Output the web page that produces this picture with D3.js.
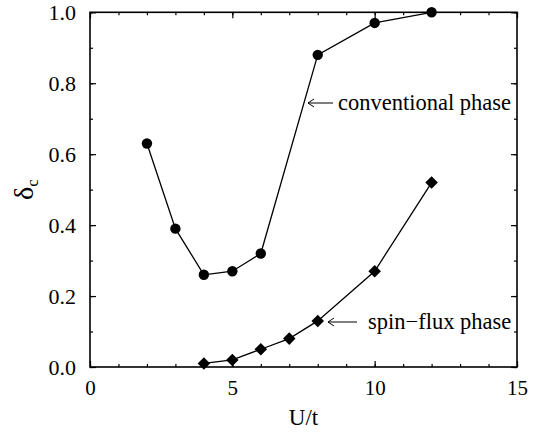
<!DOCTYPE html>
<html><head><meta charset="utf-8">
<script src="https://cdn.jsdelivr.net/npm/d3@7"></script>
</head><body style="margin:0">
<script>
const convU = [2,3,4,5,6,8,10,12];
const convDelta = [0.63,0.39,0.26,0.27,0.32,0.88,0.97,1.0];
const spinU = [4,5,6,7,8,10,12];
const spinDelta = [0.01,0.02,0.05,0.08,0.13,0.27,0.52];
const xTicks = [0,5,10,15];
const yTicks = [0.0,0.2,0.4,0.6,0.8,1.0];
const xLabel = "U/t";
const convLabel = "conventional phase";
const spinLabel = "spin\u2212flux phase";

const W=538,H=432, m={l:90,t:12.3,r:21,b:65};
const svg=d3.select("body").append("svg").attr("width",W).attr("height",H).style("display","block");
const x=d3.scaleLinear().domain([0,15]).range([m.l,W-m.r]);
const y=d3.scaleLinear().domain([0,1]).range([H-m.b,m.t]);
const g=svg.append("g");

function serif(sel){return sel.style("font-family",'"Liberation Serif"').style("fill","#000");}
function styleAxis(sel){sel.attr("font-family",null).attr("font-size",null);sel.select(".domain").remove();sel.selectAll("line").attr("stroke","#000").attr("stroke-width",1.2);}
const xMinor=d3.range(0,15.01,1), yMinor=d3.range(0,1.001,0.1);
// bottom
g.append("g").attr("transform",`translate(0,${y(0)})`).call(d3.axisBottom(x).tickValues(xMinor).tickSize(-3).tickFormat("")).call(styleAxis);
g.append("g").attr("transform",`translate(0,${y(0)})`).call(d3.axisBottom(x).tickValues(xTicks).tickSize(-6).tickPadding(13).tickFormat(d3.format("d"))).call(styleAxis)
 .selectAll("text").style("font-size","21px").call(serif);
// top
g.append("g").attr("transform",`translate(0,${y(1)})`).call(d3.axisTop(x).tickValues(xMinor).tickSize(-3).tickFormat("")).call(styleAxis);
g.append("g").attr("transform",`translate(0,${y(1)})`).call(d3.axisTop(x).tickValues(xTicks).tickSize(-6).tickFormat("")).call(styleAxis);
// left
g.append("g").attr("transform",`translate(${x(0)},0)`).call(d3.axisLeft(y).tickValues(yMinor).tickSize(-3).tickFormat("")).call(styleAxis);
g.append("g").attr("transform",`translate(${x(0)},0)`).call(d3.axisLeft(y).tickValues(yTicks).tickSize(-6).tickPadding(14).tickFormat(d3.format(".1f"))).call(styleAxis)
 .selectAll("text").style("font-size","22px").call(serif);
// right
g.append("g").attr("transform",`translate(${x(15)},0)`).call(d3.axisRight(y).tickValues(yMinor).tickSize(-3).tickFormat("")).call(styleAxis);
g.append("g").attr("transform",`translate(${x(15)},0)`).call(d3.axisRight(y).tickValues(yTicks).tickSize(-6).tickFormat("")).call(styleAxis);

g.append("rect").attr("x",x(0)).attr("y",y(1)).attr("width",x(15)-x(0)).attr("height",y(0)-y(1))
 .attr("fill","none").attr("stroke","#000").attr("stroke-width",1.6);

const line=d3.line().x(d=>x(d[0])).y(d=>y(d[1]));
const conv=convU.map((u,i)=>[u,convDelta[i]]);
const spin=spinU.map((u,i)=>[u,spinDelta[i]]);
g.append("path").datum(conv).attr("d",line).attr("fill","none").attr("stroke","#000").attr("stroke-width",1.3);
g.append("path").datum(spin).attr("d",line).attr("fill","none").attr("stroke","#000").attr("stroke-width",1.3);
g.selectAll("circle.c").data(conv).enter().append("circle").attr("cx",d=>x(d[0])).attr("cy",d=>y(d[1])).attr("r",5.2).attr("fill","#000");
const dia=d3.symbol().type(d3.symbolDiamond2).size(100);
g.selectAll("path.d").data(spin).enter().append("path").attr("d",dia).attr("transform",d=>`translate(${x(d[0])},${y(d[1])})`).attr("fill","#000");

// axis titles
svg.append("text").attr("x",(x(0)+x(15))/2).attr("y",425).attr("text-anchor","middle").style("font-size","23px").call(serif).text(xLabel);
const yl=svg.append("text").attr("transform",`translate(33,${(y(0)+y(1))/2}) rotate(-90)`).attr("text-anchor","middle").style("font-size","28px").call(serif);
yl.append("tspan").text("\u03b4");
yl.append("tspan").style("font-size","17px").attr("dy",5).text("c");

// annotations
function arrow(x1,x2,yy){
  svg.append("line").attr("x1",x1).attr("x2",x2).attr("y1",yy).attr("y2",yy).attr("stroke","#000").attr("stroke-width",1);
  svg.append("path").attr("d",`M${x1+6},${yy-4}L${x1},${yy}L${x1+6},${yy+4}`).attr("fill","none").attr("stroke","#000").attr("stroke-width",1);
}
arrow(308,333,103);
svg.append("text").attr("x",338).attr("y",110).style("font-size","22.5px").call(serif).text(convLabel);
arrow(328,357,322);
svg.append("text").attr("x",368).attr("y",329).style("font-size","22.5px").call(serif).text(spinLabel);
</script></body></html>
